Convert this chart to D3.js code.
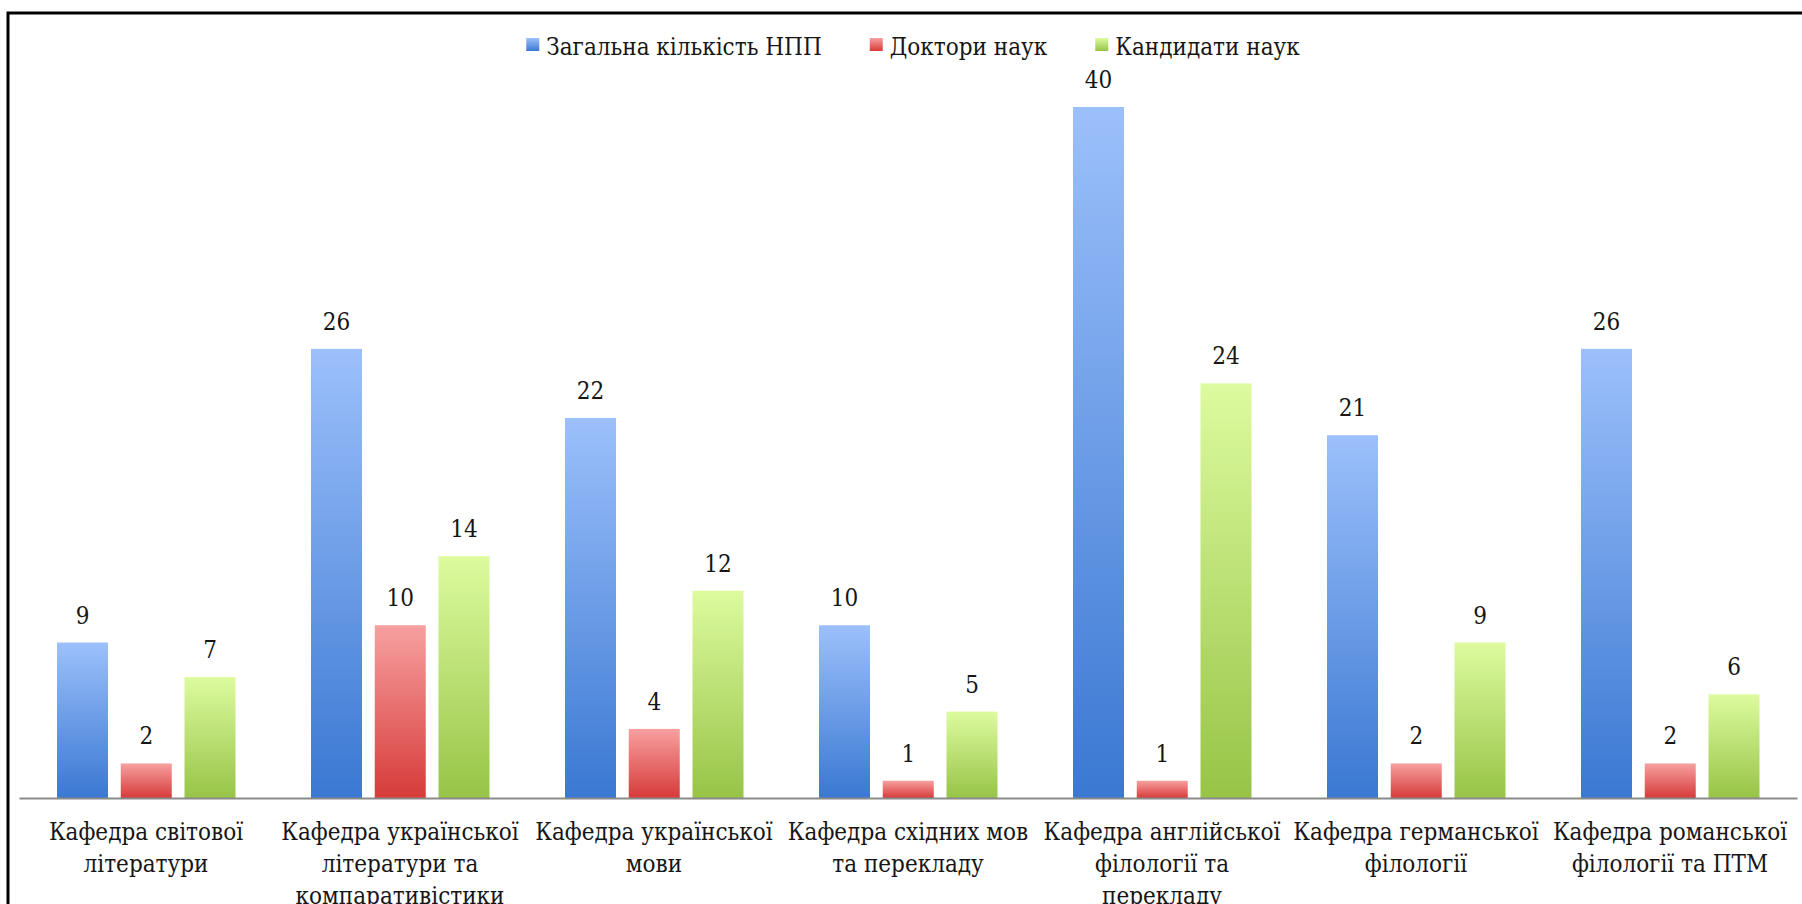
<!DOCTYPE html>
<html>
<head>
<meta charset="utf-8">
<script src="https://cdn.jsdelivr.net/npm/d3@7"></script>
<style>
  html, body { margin: 0; padding: 0; background: #fff; overflow: hidden; }
  svg { display: block; }
</style>
</head>
<body>
<svg id="chart" width="1802" height="904"></svg>
<script>
const categories = [
  "Кафедра світової\nлітератури",
  "Кафедра української\nлітератури та\nкомпаративістики",
  "Кафедра української\nмови",
  "Кафедра східних мов\nта перекладу",
  "Кафедра англійської\nфілології та\nперекладу",
  "Кафедра германської\nфілології",
  "Кафедра романської\nфілології та ПТМ"
];
const seriesNames = ["Загальна кількість НПП", "Доктори наук", "Кандидати наук"];
const totalStaff = [9, 26, 22, 10, 40, 21, 26];
const doctors = [2, 10, 4, 1, 1, 2, 2];
const candidates = [7, 14, 12, 5, 24, 9, 6];
const seriesValues = [totalStaff, doctors, candidates];

const gradients = [
  ["#9cc0fb", "#3a78d2"],
  ["#f7a0a0", "#d63b39"],
  ["#ddfb9f", "#97c447"]
];

const FONT = "'DejaVu Serif Condensed', 'DejaVu Serif', serif";

const svg = d3.select("#chart");
const W = 1802, H = 904;

// frame
svg.append("rect")
  .attr("x", 8).attr("y", 13)
  .attr("width", W + 20).attr("height", H + 20)
  .attr("fill", "none").attr("stroke", "#000").attr("stroke-width", 3);

const defs = svg.append("defs");
gradients.forEach((g, i) => {
  const lg = defs.append("linearGradient").attr("id", "g" + i)
    .attr("x1", 0).attr("y1", 0).attr("x2", 0).attr("y2", 1);
  lg.append("stop").attr("offset", "0%").attr("stop-color", g[0]);
  lg.append("stop").attr("offset", "100%").attr("stop-color", g[1]);
});

const x0 = d3.scaleBand().domain(d3.range(categories.length)).range([19, 1797]).padding(0);
const x1 = d3.scaleBand().domain(d3.range(seriesNames.length)).range([38, 216.5]).paddingInner(0.2).paddingOuter(0);
const y = d3.scaleLinear().domain([0, 40]).range([798, 107]);

const rows = [];
categories.forEach((c, ci) => {
  seriesValues.forEach((vals, si) => rows.push({ ci, si, v: vals[ci] }));
});

const bars = svg.append("g");
bars.selectAll("rect").data(rows).join("rect")
  .attr("x", d => x0(d.ci) + x1(d.si))
  .attr("y", d => y(d.v))
  .attr("width", x1.bandwidth())
  .attr("height", d => y(0) - y(d.v))
  .attr("fill", d => `url(#g${d.si})`);

svg.append("g").selectAll("text").data(rows).join("text")
  .attr("x", d => x0(d.ci) + x1(d.si) + x1.bandwidth() / 2)
  .attr("y", d => y(d.v) - 19)
  .attr("text-anchor", "middle")
  .style("font-family", FONT)
  .style("font-stretch", "condensed")
  .style("font-size", "24px")
  .style("fill", "#161616")
  .text(d => d.v);

// axis
const axis = svg.append("g").attr("transform", `translate(0,${y(0)})`)
  .call(d3.axisBottom(x0).tickSize(0).tickSizeOuter(0).tickFormat(""));
axis.attr("font-family", null).attr("font-size", null);
axis.select(".domain").attr("stroke", "#8a8a8a").attr("stroke-width", 2);
axis.selectAll(".tick").each(function(d) {
  const t = d3.select(this).append("text")
    .attr("text-anchor", "middle")
    .style("font-family", FONT)
    .style("font-stretch", "condensed")
    .style("font-size", "24px")
    .style("fill", "#161616");
  categories[d].split("\n").forEach((line, li) => {
    t.append("tspan").attr("x", 0).attr("y", 42 + li * 32).text(line);
  });
});

// legend
const legend = svg.append("g");
const items = legend.selectAll("g").data(seriesNames).join("g");
items.append("rect").attr("width", 13).attr("height", 13).attr("y", 38)
  .attr("fill", (d, i) => `url(#g${i})`);
items.append("text").attr("x", 20).attr("y", 55)
  .style("font-family", FONT).style("font-stretch", "condensed")
  .style("font-size", "24px").style("fill", "#161616")
  .text(d => d);
let cx = 0;
const widths = [];
items.each(function() {
  const w = d3.select(this).select("text").node().getComputedTextLength();
  widths.push(20 + w);
});
const gap = 48;
const total = d3.sum(widths) + gap * (widths.length - 1);
cx = 913 - total / 2;
items.each(function(d, i) {
  d3.select(this).attr("transform", `translate(${cx},0)`);
  cx += widths[i] + gap;
});
</script>
</body>
</html>
